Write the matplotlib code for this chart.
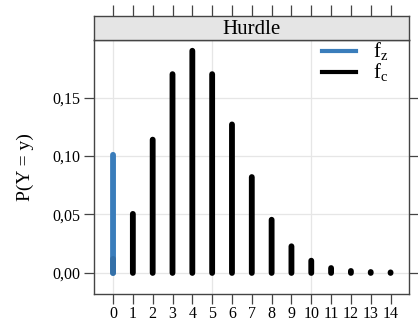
import matplotlib
matplotlib.use("Agg")
import matplotlib.pyplot as plt
from matplotlib.ticker import FuncFormatter

plt.rcParams["font.family"] = ["Liberation Serif", "DejaVu Serif"]

# hurdle model: zero part and count part
counts = list(range(15))
fz_x = [0]
fz_y = [0.101]
fc_x = list(range(1, 15))
fc_y = [0.0505, 0.114, 0.170, 0.190, 0.170, 0.127, 0.082, 0.0455,
        0.0228, 0.0105, 0.0042, 0.0017, 0.0008, 0.0005]
yticks = [0.00, 0.05, 0.10, 0.15]
panel_title = "Hurdle"

BLUE = "#3a7dbb"
FRAME = "#444444"

fig = plt.figure(figsize=(4.18, 3.25), dpi=100)
ax = fig.add_axes([94 / 418, 1 - 294 / 325, 315 / 418, 254 / 325])
strip = fig.add_axes([94 / 418, 1 - 40 / 325, 315 / 418, 24 / 325], sharex=ax)

ax.set_xlim(-0.96, 14.93)
ax.set_ylim(-0.018, 0.1992)

for g in [0, 5, 10]:
    ax.axvline(g, color="#e6e6e6", lw=0.9, zorder=0)
for g in yticks:
    ax.axhline(g, color="#e6e6e6", lw=0.9, zorder=0)

bars_c = ax.vlines(fc_x, 0, fc_y, color="black", lw=4.2, zorder=3)
bars_z = ax.vlines(fz_x, 0, fz_y, color=BLUE, lw=4.2, zorder=3)
# small overlap where both parts sit at zero
bars_o = ax.vlines(fz_x, 0, [0.012], color="#3470a8", lw=4.2, zorder=4)
for c in (bars_c, bars_z, bars_o):
    c.set_capstyle("round")
    c.set_snap(False)

ax.set_xticks(counts)
ax.set_yticks(yticks)
ax.yaxis.set_major_formatter(FuncFormatter(lambda v, p: f"{v:.2f}".replace(".", ",")))
ax.tick_params(axis="both", direction="out", length=7, width=0.9, color=FRAME,
               labelsize=11.5, pad=3)
ax.tick_params(axis="y", right=True)
ax.tick_params(axis="x", labelsize=11.5, pad=2)
for s in ax.spines.values():
    s.set_color(FRAME)
    s.set_linewidth(1.0)

ax.set_ylabel("P(Y = y)", fontsize=14, labelpad=13)

# strip header with top ticks
strip.set_facecolor("#e5e5e5")
strip.set_yticks([])
strip.tick_params(axis="x", bottom=False, labelbottom=False, top=True,
                  direction="out", length=8, width=0.9, color=FRAME)
for s in strip.spines.values():
    s.set_color(FRAME)
    s.set_linewidth(1.0)
strip.text(0.5, 0.45, panel_title, transform=strip.transAxes, ha="center",
           va="center", fontsize=15)

# legend drawn as lines and labels in the corner
leg = [(BLUE, r"$\mathregular{f_z}$", 51), ("black", r"$\mathregular{f_c}$", 72)]
for col, lab, ypx in leg:
    yf = 1 - ypx / 325
    fig.add_artist(plt.Line2D([322 / 418, 356 / 418], [yf, yf], color=col, lw=3,
                              transform=fig.transFigure))
    fig.text(373 / 418, yf, lab, fontsize=15, va="center", ha="left")

fig.savefig("out.png", dpi=100)
